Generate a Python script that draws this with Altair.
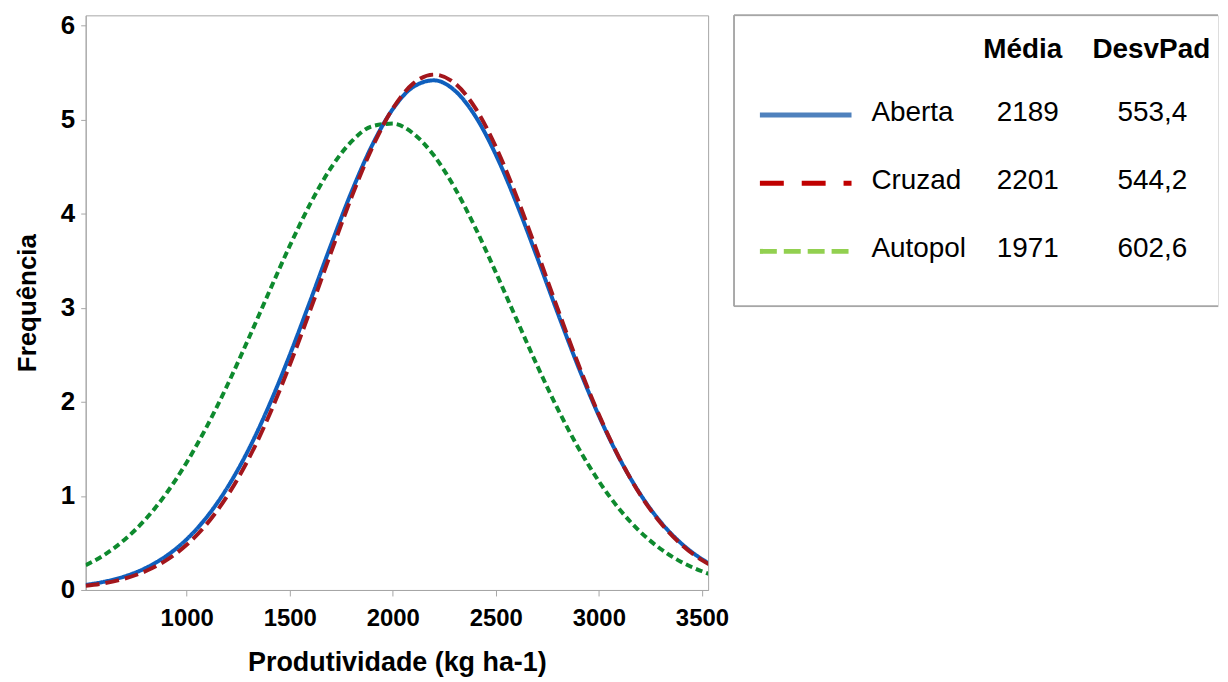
import altair as alt
import pandas as pd

# ---- data ----
x_vals = [510, 600, 700, 800, 900, 1000, 1100, 1200, 1300, 1400, 1500, 1600, 1700,
          1800, 1900, 2000, 2100, 2200, 2300, 2400, 2500, 2600, 2700, 2800, 2900,
          3000, 3100, 3200, 3300, 3400, 3500, 3540]

aberta = [0.054, 0.088, 0.145, 0.232, 0.360, 0.539, 0.782, 1.098, 1.491, 1.962, 2.497,
          3.076, 3.668, 4.233, 4.729, 5.113, 5.350, 5.419, 5.312, 5.040, 4.628, 4.114,
          3.539, 2.946, 2.374, 1.852, 1.398, 1.022, 0.722, 0.495, 0.328, 0.275]

cruzad = [0.044, 0.072, 0.122, 0.199, 0.315, 0.480, 0.708, 1.010, 1.392, 1.855, 2.391,
          2.978, 3.587, 4.177, 4.703, 5.119, 5.387, 5.480, 5.390, 5.126, 4.712, 4.188,
          3.599, 2.990, 2.402, 1.865, 1.400, 1.016, 0.713, 0.484, 0.317, 0.266]

autopol = [0.263, 0.373, 0.537, 0.751, 1.023, 1.356, 1.747, 2.190, 2.671, 3.169, 3.658,
           4.108, 4.488, 4.769, 4.931, 4.959, 4.853, 4.619, 4.278, 3.854, 3.377, 2.880,
           2.389, 1.927, 1.513, 1.156, 0.858, 0.620, 0.436, 0.298, 0.199, 0.167]

names = ["Aberta", "Cruzad", "Autopol"]
medias = ["2189", "2201", "1971"]
desvpad = ["553,4", "544,2", "602,6"]

x_ticks = [1000, 1500, 2000, 2500, 3000, 3500]
y_ticks = [0, 1, 2, 3, 4, 5, 6]

plot_colors = {"Aberta": "#0f5fbd", "Cruzad": "#a3161c", "Autopol": "#0e8a2e"}
plot_dash = {"Aberta": [1, 0], "Cruzad": [14, 6], "Autopol": [7, 4]}
legend_colors = ["#4f81bd", "#c00000", "#92d050"]
legend_dash = [[1, 0], [24, 18], [17, 7]]

FONT = "Liberation Sans"

series = {"Aberta": aberta, "Cruzad": cruzad, "Autopol": autopol}
df = pd.concat([pd.DataFrame({"x": x_vals, "y": v, "serie": k}) for k, v in series.items()],
               ignore_index=True)

xs = alt.Scale(domain=[510, 3530], nice=False, zero=False)
ys = alt.Scale(domain=[0, 6.11], nice=False, zero=True)

x_axis = alt.Axis(values=x_ticks, format="d", title="Produtividade (kg ha-1)", grid=False,
                  labelFont=FONT, labelFontSize=24, labelFontWeight="bold", labelColor="black",
                  titleFont=FONT, titleFontSize=27, titleFontWeight="bold", titleColor="black",
                  titlePadding=19, labelPadding=11, tickSize=6, tickColor="#a6a6a6",
                  domainColor="#a6a6a6", labelFlush=False, labelOverlap=False)
y_axis = alt.Axis(values=y_ticks, format="d", title="Frequência", grid=False,
                  labelFont=FONT, labelFontSize=26, labelFontWeight="bold", labelColor="black",
                  titleFont=FONT, titleFontSize=26, titleFontWeight="bold", titleColor="black",
                  titlePadding=20, labelPadding=6, tickSize=5, tickColor="#a6a6a6",
                  domainColor="#a6a6a6", labelFlush=False, labelOverlap=False)

layers = []
for k in ["Autopol", "Aberta", "Cruzad"]:
    layers.append(
        alt.Chart(df).transform_filter(alt.datum.serie == k)
        .mark_line(clip=True, interpolate="monotone", strokeWidth=4,
                   color=plot_colors[k], strokeDash=plot_dash[k])
        .encode(x=alt.X("x:Q", scale=xs, axis=x_axis),
                y=alt.Y("y:Q", scale=ys, axis=y_axis))
    )

main = alt.layer(*layers).properties(
    width=625, height=577,
    view=alt.ViewBackground(stroke="#a6a6a6", strokeWidth=1))

# ---- legend table panel ----
LW, LH = 486, 292
leg = pd.DataFrame({"serie": names, "row": [1, 2, 3], "media": medias, "sd": desvpad})
head = pd.DataFrame({"txt": ["Média", "DesvPad"], "col": [290, 419]})

rowscale = alt.Scale(domain=[1, 3], range=[106, 243])
ybase = alt.Y("row:Q", scale=rowscale, axis=None)

lines = alt.Chart(leg).mark_rule(strokeWidth=5, yOffset=-6).encode(
    x=alt.value(26), x2=alt.value(118), y=ybase,
    color=alt.Color("serie:N", scale=alt.Scale(domain=names, range=legend_colors), legend=None),
    strokeDash=alt.StrokeDash("serie:N", scale=alt.Scale(domain=names, range=legend_dash), legend=None))

lab = alt.Chart(leg).mark_text(font=FONT, fontSize=28, align="left", baseline="alphabetic",
                               color="black").encode(x=alt.value(138), y=ybase, text="serie:N")
med = alt.Chart(leg).mark_text(font=FONT, fontSize=28, align="center", baseline="alphabetic",
                               color="black").encode(x=alt.value(295), y=ybase, text="media:N")
sdt = alt.Chart(leg).mark_text(font=FONT, fontSize=28, align="center", baseline="alphabetic",
                               color="black").encode(x=alt.value(420), y=ybase, text="sd:N")
hdr = alt.Chart(head).mark_text(font=FONT, fontSize=28, fontWeight="bold", align="center",
                                baseline="alphabetic", color="black").encode(
    x=alt.X("col:Q", scale=alt.Scale(domain=[0, LW], range=[0, LW]), axis=None),
    y=alt.value(43), text="txt:N")

border_top = alt.Chart(head).mark_rule(color="#a6a6a6", strokeWidth=1.5).encode(
    x=alt.value(0), x2=alt.value(LW), y=alt.value(0))
border_bot = alt.Chart(head).mark_rule(color="#a6a6a6", strokeWidth=1.5).encode(
    x=alt.value(0), x2=alt.value(LW), y=alt.value(LH))
border_left = alt.Chart(head).mark_rule(color="#a6a6a6", strokeWidth=1.5).encode(
    x=alt.value(0), y=alt.value(0), y2=alt.value(LH))

legend_panel = alt.layer(border_top, border_bot, border_left, lines, lab, med, sdt, hdr).properties(
    width=LW, height=LH).resolve_scale(x="independent", y="independent")

chart = alt.hconcat(main, legend_panel, spacing=3).properties(
    padding={"left": 6, "top": 2, "right": 0, "bottom": 0}
).configure_view(strokeWidth=0).configure(background="white")

chart.save("out.html", embed_options={"renderer": "svg", "actions": False})
